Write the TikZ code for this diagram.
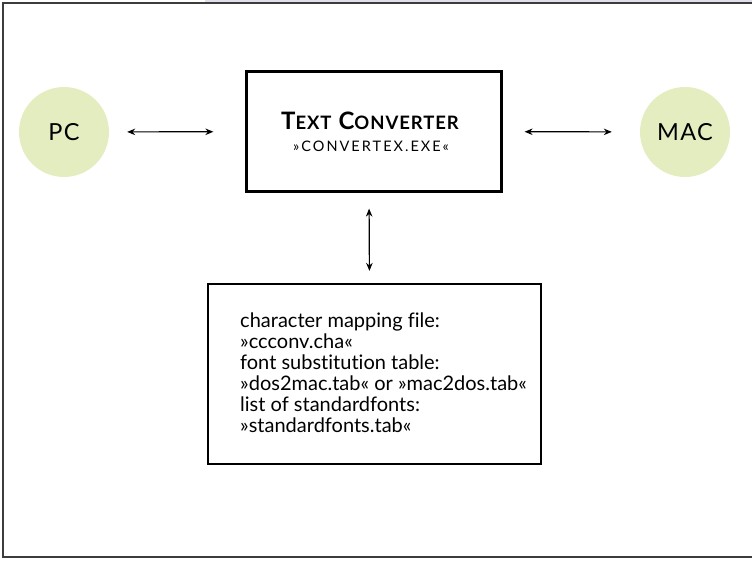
\documentclass[tikz,border=0pt]{standalone}
\usepackage{fontspec}
\setmainfont{Lato}[Ligatures=NoCommon]
\usetikzlibrary{arrows.meta}

\definecolor{stationgreen}{RGB}{228,237,192}
\definecolor{framegray}{RGB}{60,60,60}
\definecolor{tabblue}{RGB}{222,222,236}

\newcommand{\fakesc}[1]{{\fontsize{18.5}{18.5}\selectfont #1}}

\tikzset{
  station/.style={circle, fill=stationgreen, minimum size=90pt, inner sep=0pt,
    font=\fontsize{23.5}{23.5}\selectfont\addfontfeatures{LetterSpace=6}},
  prog/.style={draw=black, line width=2.2pt, minimum width=255pt, minimum height=120pt},
  link/.style={{Stealth[length=8pt,width=6.5pt]}-{Stealth[length=8pt,width=6.5pt]}, line width=1.2pt}
}

\begin{document}
\begin{tikzpicture}[x=1pt,y=-1pt]
      \useasboundingbox (0,0) rectangle (752,560);
      \fill[tabblue] (205,0) rectangle (752,3);
      \draw[framegray, line width=1.5pt] (752,3) -- (3,3) -- (3,557) -- (752,557);

      \node[station, name=pc] at (64,132) {PC};
      \node[station, name=mac] at (685,132) {MAC};
      \node[prog, name=conv] at (374,131.5) {};
      \node[name=convtitle, anchor=base, inner sep=0pt,
            font=\fontsize{24}{24}\selectfont\bfseries\addfontfeatures{LetterSpace=5}] at (370,129)
         {T\fakesc{EXT} C\fakesc{ONVERTER}};
      \node[name=convfile, anchor=base, inner sep=0pt,
            font=\fontsize{14.5}{14.5}\selectfont\addfontfeatures{LetterSpace=14}] at (371,151)
         {»CONVERTEX.EXE«};
      \node[prog, name=tables, minimum width=333pt, minimum height=180pt] at (374.5,374) {};
      \node[name=tablelist, anchor=north west, align=left, inner sep=0pt,
            font=\fontsize{20}{21}\selectfont] at (240,313)
         {character mapping file:\\
          »ccconv.cha«\\
          font substitution table:\\
          »dos2mac.tab« or »mac2dos.tab«\\
          list of standardfonts:\\
          »standardfonts.tab«};

      \path[link]
         (pc) edge[shorten <=18pt, shorten >=32pt] (conv)
         (conv) edge[shorten <=22pt, shorten >=28pt] (mac)
         ([xshift=-5pt]conv.south) edge[shorten <=16pt, shorten >=12pt] ([xshift=-5pt]tables.north);
   \end{tikzpicture}
\end{document}
